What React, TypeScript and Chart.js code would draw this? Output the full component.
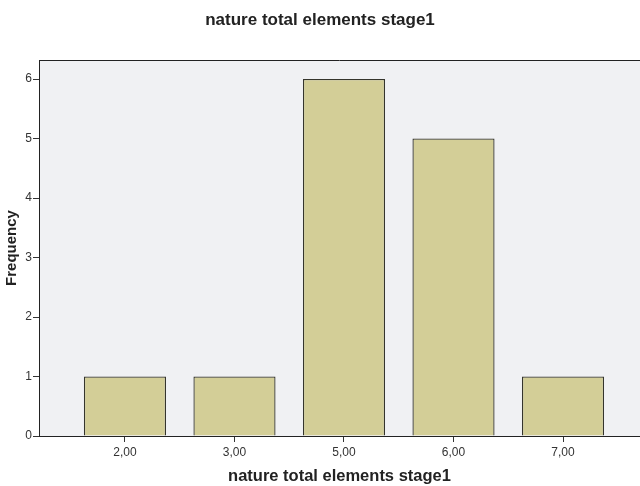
import React, { useEffect, useRef } from "react";
import { Chart, registerables } from "chart.js";

Chart.register(...registerables);

const categories = ["2,00", "3,00", "5,00", "6,00", "7,00"];
const frequencies = [1, 1, 6, 5, 1];
const yTicks = [0, 1, 2, 3, 4, 5, 6];

const FONT = "'Liberation Sans', Arial, sans-serif";

const plotFrame = {
  id: "plotFrame",
  beforeDraw(chart: any) {
    const { ctx, chartArea } = chart;
    ctx.save();
    ctx.fillStyle = "#f0f1f3";
    ctx.fillRect(chartArea.left, chartArea.top, chartArea.right - chartArea.left, chartArea.bottom - chartArea.top);
    ctx.restore();
  },
  afterDraw(chart: any) {
    const { ctx, chartArea } = chart;
    ctx.save();
    ctx.strokeStyle = "#222222";
    ctx.lineWidth = 1;
    ctx.beginPath();
    ctx.moveTo(chartArea.left, chartArea.top + 0.5);
    ctx.lineTo(chartArea.right, chartArea.top + 0.5);
    ctx.stroke();
    ctx.restore();
  },
};

export default function App() {
  const ref = useRef<HTMLCanvasElement | null>(null);
  useEffect(() => {
    document.body.style.margin = "0";
    const chart = new Chart(ref.current!, {
      type: "bar",
      data: {
        datasets: [
          {
            data: frequencies.map((v, i) => ({ x: i, y: v })),
            backgroundColor: "#d3ce97",
            borderColor: "#35352c",
            borderWidth: 1.3,
            borderSkipped: "start",
            barPercentage: 0.75,
            categoryPercentage: 1,
          },
        ],
      },
      options: {
        animation: false,
        responsive: false,
        maintainAspectRatio: false,
        layout: { padding: { left: 0, right: 0, top: 0, bottom: 0 } },
        plugins: {
          legend: { display: false },
          tooltip: { enabled: false },
          title: {
            display: true,
            text: "nature total elements stage1",
            color: "#222222",
            font: { family: FONT, size: 17, weight: "bold" },
            padding: { top: 10, bottom: 29.6 },
          },
        },
        scales: {
          x: {
            type: "linear",
            offset: false,
            min: -0.785,
            max: 4.703,
            afterBuildTicks: (scale: any) => {
              scale.ticks = categories.map((_, i) => ({ value: i }));
            },
            afterFit: (scale: any) => {
              scale.height = 50;
            },
            ticks: {
              callback: (v: any) => categories[v as number] ?? "",
              color: "#333333",
              font: { family: FONT, size: 12 },
              padding: 3,
              maxRotation: 0,
              autoSkip: false,
            },
            grid: {
              display: true,
              offset: false,
              drawOnChartArea: false,
              drawTicks: true,
              tickLength: 6,
              color: "#333333",
            },
            border: { display: true, color: "#222222", width: 1 },
            title: {
              display: true,
              text: "nature total elements stage1",
              color: "#222222",
              font: { family: FONT, size: 16.5, weight: "bold" },
              padding: { top: 0, bottom: 0 },
            },
          },
          y: {
            type: "linear",
            min: 0,
            max: 6.32,
            afterBuildTicks: (scale: any) => {
              scale.ticks = yTicks.map((v) => ({ value: v }));
            },
            afterFit: (scale: any) => {
              scale.width = 39;
            },
            ticks: {
              color: "#333333",
              font: { family: FONT, size: 12 },
              padding: 1,
            },
            grid: {
              display: true,
              drawOnChartArea: false,
              drawTicks: true,
              tickLength: 6,
              color: "#333333",
            },
            border: { display: true, color: "#222222", width: 1 },
            title: {
              display: true,
              text: "Frequency",
              color: "#222222",
              font: { family: FONT, size: 15, weight: "bold" },
              padding: { top: 3, bottom: 0 },
            },
          },
        },
      },
      plugins: [plotFrame],
    });
    return () => chart.destroy();
  }, []);
  return (
    <canvas
      ref={ref}
      width={640}
      height={486}
      style={{ position: "absolute", left: 0, top: 0, width: 640, height: 486 }}
    />
  );
}
